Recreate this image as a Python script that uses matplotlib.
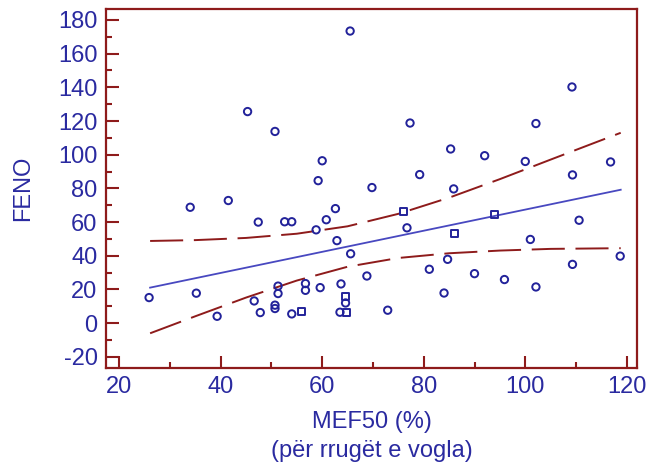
import numpy as np
import matplotlib.pyplot as plt
from matplotlib.ticker import MultipleLocator

# ===========================
# Data
# ===========================

mef50 = [25.9, 34.0, 35.2, 39.3, 41.5, 45.3, 46.6, 47.4, 47.8, 50.7,
         50.7, 50.7, 51.3, 51.3, 52.6, 54.0, 54.0, 56.0, 56.7, 56.7,
         58.8, 59.2, 59.6, 60.0, 60.8, 62.6, 62.9, 63.7, 64.6, 64.6,
         63.5, 64.7, 65.5, 65.6, 68.8, 69.8, 72.9, 76.1, 76.7, 77.3,
         79.2, 81.1, 84.0, 84.7, 85.3, 85.9, 86.0, 90.0, 92.0, 93.9,
         95.9, 100.0, 101.0, 102.1, 102.1, 109.2, 109.3, 109.3, 110.6, 116.8,
         118.7]
feno = [15.2, 68.8, 17.8, 4.1, 72.8, 125.6, 13.2, 60.0, 6.3, 113.8,
        10.7, 8.7, 22.0, 17.6, 60.2, 60.2, 5.5, 7.2, 23.5, 19.5,
        55.4, 84.6, 21.1, 96.4, 61.4, 68.0, 49.0, 23.3, 16.0, 12.0,
        6.5, 6.5, 173.4, 41.2, 28.0, 80.5, 7.7, 66.3, 56.6, 118.8,
        88.2, 32.0, 17.9, 37.9, 103.4, 79.7, 53.1, 29.4, 99.4, 64.3,
        25.9, 96.0, 49.7, 118.5, 21.5, 140.2, 88.0, 34.9, 61.1, 95.7,
        39.8]
# points drawn as squares in the original
square_idx = [17, 28, 31, 37, 46, 49]

# regression line, as drawn in the reference
fit_x = [26.1, 118.8]
fit_y = [21.1, 79.2]

# 95% confidence band
band_x = [26.1, 35, 45, 55, 65, 75, 85, 95, 105, 118.8]
band_upper = [48.8, 49.3, 50.6, 53.1, 57.5, 64.9, 74.5, 85.5, 97.1, 113.0]
band_lower = [-6.0, 4.1, 15.2, 25.3, 33.5, 38.7, 41.5, 43.1, 44.1, 44.5]

x = np.asarray(mef50)
y = np.asarray(feno)
n = len(x)

# ===========================
# Plot
# ===========================

red = "#8e1b1b"
navy = "#22229a"
label_col = "#2a2aa0"

plt.rcParams["font.family"] = ["Liberation Sans", "DejaVu Sans"]
plt.rcParams["axes.unicode_minus"] = False

fig = plt.figure(figsize=(6.46, 4.72), dpi=100)
ax = fig.add_axes([0.164, 0.220, 0.822, 0.761])

is_sq = np.zeros(n, dtype=bool)
is_sq[square_idx] = True

ax.scatter(x[~is_sq], y[~is_sq], s=28, marker="o", facecolors="none",
           edgecolors=navy, linewidths=1.4, zorder=3)
ax.scatter(x[is_sq], y[is_sq], s=26, marker="s", facecolors="none",
           edgecolors=navy, linewidths=1.4, zorder=3)

ax.plot(fit_x, fit_y, color="#4848c0", lw=1.3, zorder=2)
ax.plot(band_x, band_upper, color=red, lw=1.4, dashes=(17, 5.5), zorder=2)
ax.plot(band_x, band_lower, color=red, lw=1.4, dashes=(17, 5.5), zorder=2)

ax.set_xlim(17.4, 122.0)
ax.set_ylim(-26.7, 186.5)

ax.xaxis.set_major_locator(MultipleLocator(20))
ax.xaxis.set_minor_locator(MultipleLocator(10))
ax.yaxis.set_major_locator(MultipleLocator(20))
ax.yaxis.set_minor_locator(MultipleLocator(10))

for sp in ax.spines.values():
    sp.set_color(red)
    sp.set_linewidth(1.6)

ax.tick_params(which="both", direction="in", color=red, width=1.5,
               labelcolor=label_col, labelsize=17)
ax.tick_params(which="major", length=9)
ax.tick_params(which="minor", length=4.5)
ax.tick_params(axis="y", which="major", pad=6)
ax.tick_params(axis="x", which="major", pad=6)

ax.set_ylabel("FENO", fontsize=17, color=label_col, labelpad=17)
ax.set_xlabel("MEF50 (%)\n(për rrugët e vogla)", fontsize=17,
              color=label_col, labelpad=9, linespacing=1.4)

fig.savefig("out.png", dpi=100)
